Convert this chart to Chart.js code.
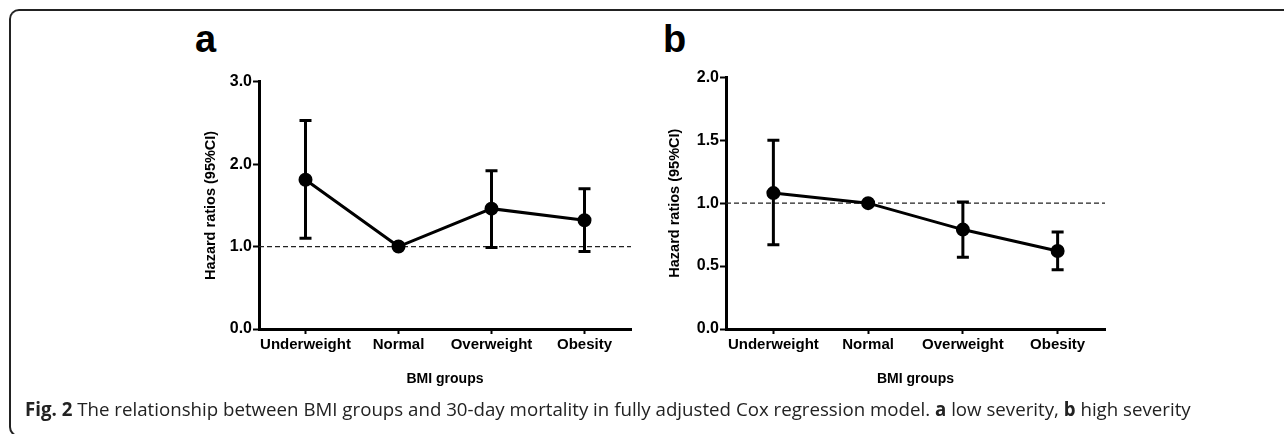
<!DOCTYPE html>
<html lang="en">
<head>
    <meta charset="UTF-8">
    <title>BMI groups and 30-day mortality</title>
    <script src="https://cdn.jsdelivr.net/npm/chart.js"></script>
    <style>
        body { margin: 0; width: 1284px; height: 434px; overflow: hidden; background: #fff; position: relative; }
        .frame { position: absolute; left: 9px; top: 9px; width: 1400px; height: 424px; border: 2px solid #222; border-right: none; border-radius: 10px 0 0 10px; }
        .panel { position: absolute; }
        .letter { position: absolute; font-family: Arial, "Liberation Sans", sans-serif; font-weight: bold; font-size: 38px; line-height: 1; color: #000; }
        .caption { position: absolute; left: 25px; top: 396px; font-family: "Open Sans", "Noto Sans", sans-serif; font-size: 18.7px; color: #222; white-space: nowrap; }
    </style>
</head>
<body>
    <div class="frame"></div>
    <div class="letter" style="left:195px; top:20px;">a</div>
    <div class="letter" style="left:663px; top:20px;">b</div>
    <canvas id="chartA" class="panel" width="500" height="380" style="left:150px; top:20px;"></canvas>
    <canvas id="chartB" class="panel" width="504" height="380" style="left:620px; top:20px;"></canvas>
    <div class="caption"><b>Fig. 2</b> The relationship between BMI groups and 30-day mortality in fully adjusted Cox regression model. <b>a</b> low severity, <b>b</b> high severity</div>
    <script>
        // du lieu doc tu hinh
        const categories = ['Underweight', 'Normal', 'Overweight', 'Obesity'];

        // panel a - low severity
        const hrA = [1.81, 1.0, 1.46, 1.32];
        const lowA = [1.10, 1.0, 0.99, 0.94];
        const highA = [2.53, 1.0, 1.92, 1.70];

        // panel b - high severity
        const hrB = [1.08, 1.0, 0.79, 0.62];
        const lowB = [0.67, 1.0, 0.57, 0.47];
        const highB = [1.50, 1.0, 1.01, 0.77];

        const yMaxA = 3.0, yStepA = 1.0;
        const yMaxB = 2.0, yStepB = 0.5;
        const refValue = 1.0;

        const xTitle = 'BMI groups';
        const yTitle = 'Hazard ratios (95%CI)';
        const FONT = 'Arial, "Liberation Sans", sans-serif';

        // ve thanh sai so (95% CI)
        const errorBarsPlugin = {
            id: 'errorBars',
            afterDatasetsDraw(chart, args, opts) {
                const ctx = chart.ctx;
                const x = chart.scales.x, y = chart.scales.y;
                ctx.save();
                ctx.strokeStyle = '#000';
                ctx.lineWidth = 3;
                opts.low.forEach((lo, i) => {
                    const hi = opts.high[i];
                    if (lo === hi) return;
                    const px = x.getPixelForValue(i);
                    const yl = y.getPixelForValue(lo);
                    const yh = y.getPixelForValue(hi);
                    ctx.beginPath();
                    ctx.moveTo(px, yl); ctx.lineTo(px, yh);
                    ctx.moveTo(px - 6, yl); ctx.lineTo(px + 6, yl);
                    ctx.moveTo(px - 6, yh); ctx.lineTo(px + 6, yh);
                    ctx.stroke();
                });
                ctx.restore();
            }
        };

        // duong tham chieu HR = 1
        const refLinePlugin = {
            id: 'refLine',
            beforeDatasetsDraw(chart, args, opts) {
                const ctx = chart.ctx;
                const area = chart.chartArea;
                const py = chart.scales.y.getPixelForValue(opts.value);
                ctx.save();
                ctx.strokeStyle = '#222';
                ctx.lineWidth = 1.3;
                ctx.setLineDash([5, 3]);
                ctx.beginPath();
                ctx.moveTo(area.left, py);
                ctx.lineTo(area.right, py);
                ctx.stroke();
                ctx.restore();
            }
        };

        function makePanel(id, hr, low, high, yMax, yStep, yWidth, yTitlePad, padTop) {
            return new Chart(document.getElementById(id).getContext('2d'), {
                type: 'line',
                data: {
                    labels: categories,
                    datasets: [{
                        data: hr,
                        borderColor: '#000',
                        backgroundColor: '#000',
                        borderWidth: 3,
                        pointRadius: 5.5,
                        pointBackgroundColor: '#000',
                        tension: 0
                    }]
                },
                options: {
                    responsive: false,
                    animation: false,
                    events: [],
                    layout: { padding: { top: padTop, right: 19, bottom: 0, left: 0 } },
                    plugins: {
                        legend: { display: false },
                        tooltip: { enabled: false },
                        errorBars: { low: low, high: high },
                        refLine: { value: refValue }
                    },
                    scales: {
                        x: {
                            offset: true,
                            grid: { offset: false, drawOnChartArea: false, tickLength: 5, tickWidth: 2, tickColor: '#000' },
                            border: { color: '#000', width: 3 },
                            ticks: { color: '#000', padding: 2, maxRotation: 0, autoSkip: false, font: { family: FONT, size: 15, weight: 'bold' } },
                            title: { display: true, text: xTitle, color: '#000', padding: { top: 0, bottom: 12 }, font: { family: FONT, size: 14, weight: 'bold' } },
                            afterFit(scale) { scale.height = 71; }
                        },
                        y: {
                            min: 0,
                            max: yMax,
                            grid: { drawOnChartArea: false, tickLength: 6, tickWidth: 2, tickColor: '#000' },
                            border: { color: '#000', width: 3 },
                            ticks: {
                                stepSize: yStep,
                                color: '#000',
                                padding: 1,
                                font: { family: FONT, size: 16, weight: 'bold' },
                                callback: v => v.toFixed(1)
                            },
                            title: { display: true, text: yTitle, color: '#000', padding: { top: yTitlePad, bottom: 0 }, font: { family: FONT, size: 14.5, weight: 'bold' } },
                            afterFit(scale) { scale.width = yWidth; }
                        }
                    }
                },
                plugins: [refLinePlugin, errorBarsPlugin]
            });
        }

        makePanel('chartA', hrA, lowA, highA, yMaxA, yStepA, 109, 52, 61.7);
        makePanel('chartB', hrB, lowB, highB, yMaxB, yStepB, 106, 46, 57.3);
    </script>
</body>
</html>
